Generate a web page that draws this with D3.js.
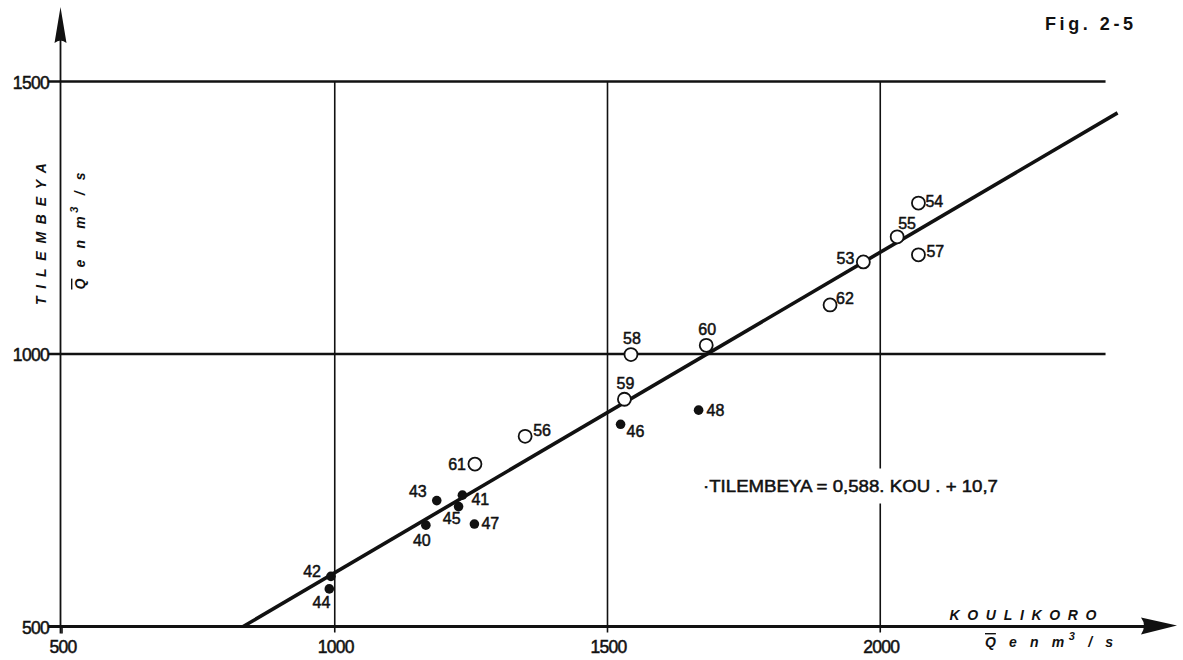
<!DOCTYPE html>
<html>
<head>
<meta charset="utf-8">
<script src="https://cdn.jsdelivr.net/npm/d3@7"></script>
<style>
  html, body { margin: 0; padding: 0; background: #fff; }
  svg { display: block; }
  text { font-family: "Liberation Sans", Arial, sans-serif; fill: #111; }
  .heavy { stroke: #111; stroke-width: 0.5px; }
</style>
</head>
<body>
<svg id="chart" width="1183" height="660"></svg>
<script>
// Mean annual discharge (m3/s): Koulikoro (x) against Tilembeya (y)
// Years 1940-1948 (filled dots)
const yearsEarly = ["40", "41", "42", "43", "44", "45", "46", "47", "48"];
const koulikoroEarly = [1167, 1234, 993, 1187, 990, 1227, 1524, 1256, 1667];
const tilembeyaEarly = [686, 741, 592, 731, 569, 720, 871, 688, 897];

// Years 1953-1962 (open circles)
const yearsLate = ["53", "54", "55", "56", "57", "58", "59", "60", "61", "62"];
const koulikoroLate = [1969, 2070, 2031, 1349, 2070, 1543, 1531, 1681, 1257, 1908];
const tilembeyaLate = [1169, 1277, 1215, 849, 1182, 999, 917, 1016, 798, 1090];

// Regression: TILEMBEYA = 0,588 . KOU + 10,7
const fitSlope = 0.588;
const fitIntercept = 10.7;
const fitEndKoulikoro = 2435;

// Axes and grid
const xTickValues = [500, 1000, 1500, 2000];
const xTickLabels = ["500", "1000", "1500", "2000"];
const yTickValues = [500, 1000, 1500];
const yTickLabels = ["500", "1000", "1500"];
const xGridValues = [1000, 1500, 2000];
const yGridValues = [1000, 1500];
const gridEndKoulikoro = 2413;

// Year label placement around each marker: [dx, dy, anchor]
const labelPlace = {
  "40": [-4, 15, "middle"], "41": [9, 4, "start"], "42": [-10, -5, "end"],
  "43": [-10, -9, "end"], "44": [1, 14, "end"], "45": [2, 12, "end"],
  "46": [6, 7, "start"], "47": [7, -1, "start"], "48": [8, 0, "start"],
  "53": [-9, -3, "end"], "54": [7, -2, "start"], "55": [1, -13, "start"],
  "56": [8, -6, "start"], "57": [8, -3, "start"], "58": [1, -16, "middle"],
  "59": [1, -16, "middle"], "60": [1, -16, "middle"], "61": [-9, 0, "end"],
  "62": [6, -6, "start"]
};

const svg = d3.select("#chart");
const ink = "#111";

const x = d3.scaleLinear().domain([500, 2500]).range([62, 1153]);
const y = d3.scaleLinear().domain([500, 1500]).range([626.5, 81.5]);

const x0 = x(500), y0 = y(500);

// Horizontal grid lines
svg.append("g").selectAll("line").data(yGridValues).join("line")
  .attr("x1", x0 - 14).attr("x2", x(gridEndKoulikoro))
  .attr("y1", d => y(d)).attr("y2", d => y(d))
  .attr("stroke", ink).attr("stroke-width", 2.5);

// Vertical grid lines
svg.append("g").selectAll("line").data(xGridValues).join("line")
  .attr("x1", d => x(d)).attr("x2", d => x(d))
  .attr("y1", y(1500)).attr("y2", y0 + 6)
  .attr("stroke", ink).attr("stroke-width", 1.6);

// Small ticks at the origin
svg.append("line").attr("x1", x0).attr("x2", x0).attr("y1", y0).attr("y2", y0 + 7)
  .attr("stroke", ink).attr("stroke-width", 1.6);
svg.append("line").attr("x1", x0 - 14).attr("x2", x0).attr("y1", y0).attr("y2", y0)
  .attr("stroke", ink).attr("stroke-width", 2);

// Y axis with arrow
svg.append("line").attr("x1", x0 - 1.5).attr("x2", x0 - 1.5).attr("y1", y0 + 7).attr("y2", 30)
  .attr("stroke", ink).attr("stroke-width", 1.8);
svg.append("path")
  .attr("d", `M${x0 - 1.5},7 L${x0 + 4.5},43 Q${x0 - 1.5},38 ${x0 - 7.5},43 Z`)
  .attr("fill", ink);

// X axis with arrow
const xAxisEnd = 1177;
svg.append("line").attr("x1", x0 - 14).attr("x2", xAxisEnd - 25).attr("y1", y0).attr("y2", y0)
  .attr("stroke", ink).attr("stroke-width", 3.2);
svg.append("path")
  .attr("d", `M${xAxisEnd},${y0 - 1} L${xAxisEnd - 36},${y0 - 9} Q${xAxisEnd - 30},${y0 - 1} ${xAxisEnd - 36},${y0 + 8} Z`)
  .attr("fill", ink);

// Tick labels
svg.append("g").selectAll("text").data(xTickValues).join("text")
  .attr("class", "heavy")
  .attr("x", d => x(d) + 1).attr("y", y0 + 20)
  .attr("text-anchor", "middle").attr("dominant-baseline", "central")
  .attr("font-size", 17.5).attr("letter-spacing", -0.7)
  .text((d, i) => xTickLabels[i]);

svg.append("g").selectAll("text").data(yTickValues).join("text")
  .attr("class", "heavy")
  .attr("x", x0 - 13).attr("y", d => y(d) + 1)
  .attr("text-anchor", "end").attr("dominant-baseline", "central")
  .attr("font-size", 17.5).attr("letter-spacing", -0.7)
  .text((d, i) => yTickLabels[i]);

// Regression line
const fitStart = (500 - fitIntercept) / fitSlope;
svg.append("line")
  .attr("x1", x(fitStart)).attr("y1", y(fitSlope * fitStart + fitIntercept))
  .attr("x2", x(fitEndKoulikoro)).attr("y2", y(fitSlope * fitEndKoulikoro + fitIntercept))
  .attr("stroke", ink).attr("stroke-width", 3.6);

// Equation; the grid line behind it is interrupted by a white backing
const eqGroup = svg.append("g");
const eq = eqGroup.append("text")
  .attr("class", "heavy")
  .attr("x", 703).attr("y", 486)
  .attr("dominant-baseline", "central")
  .attr("font-size", 17).attr("textLength", 295).attr("lengthAdjust", "spacingAndGlyphs")
  .text("·TILEMBEYA = 0,588. KOU . + 10,7");
const bb = eq.node().getBBox();
eqGroup.insert("rect", "text")
  .attr("x", bb.x - 4).attr("y", bb.y - 8).attr("width", bb.width + 8).attr("height", bb.height + 16)
  .attr("fill", "#fff");

// Markers
const early = yearsEarly.map((yr, i) => ({ yr, k: koulikoroEarly[i], t: tilembeyaEarly[i] }));
const late = yearsLate.map((yr, i) => ({ yr, k: koulikoroLate[i], t: tilembeyaLate[i] }));

svg.append("g").selectAll("circle").data(late).join("circle")
  .attr("cx", d => x(d.k)).attr("cy", d => y(d.t)).attr("r", 6.5)
  .attr("fill", "#fff").attr("stroke", ink).attr("stroke-width", 1.8);

svg.append("g").selectAll("circle").data(early).join("circle")
  .attr("cx", d => x(d.k)).attr("cy", d => y(d.t)).attr("r", 4.8)
  .attr("fill", ink);

// Year labels
svg.append("g").selectAll("text").data(early.concat(late)).join("text")
  .attr("class", "heavy")
  .attr("x", d => x(d.k) + labelPlace[d.yr][0])
  .attr("y", d => y(d.t) + labelPlace[d.yr][1])
  .attr("text-anchor", d => labelPlace[d.yr][2])
  .attr("dominant-baseline", "central")
  .attr("font-size", 16)
  .text(d => d.yr);

// Axis titles
svg.append("text")
  .attr("transform", "translate(41,234) rotate(-90)")
  .attr("text-anchor", "middle").attr("dominant-baseline", "central")
  .attr("font-size", 14).attr("font-weight", "bold").attr("font-style", "italic")
  .attr("textLength", 142).attr("lengthAdjust", "spacing")
  .text("TILEMBEYA");

function unitLabel(sel, len) {
  sel.attr("text-anchor", "middle").attr("dominant-baseline", "central")
    .attr("font-size", 14).attr("font-weight", "bold").attr("font-style", "italic");
  sel.append("tspan").style("text-decoration", "overline").text("Q");
  sel.append("tspan").text(" e n  m");
  sel.append("tspan").attr("dy", -6).attr("font-size", 11).text("3");
  sel.append("tspan").attr("dy", 6).text(" / s");
  sel.attr("textLength", len).attr("lengthAdjust", "spacing");
}
unitLabel(svg.append("text").attr("transform", "translate(80,231) rotate(-90)"), 117);

svg.append("text")
  .attr("x", 1023).attr("y", 615)
  .attr("text-anchor", "middle").attr("dominant-baseline", "central")
  .attr("font-size", 14).attr("font-weight", "bold").attr("font-style", "italic")
  .attr("textLength", 147).attr("lengthAdjust", "spacing")
  .text("KOULIKORO");
unitLabel(svg.append("text").attr("x", 1049).attr("y", 642), 128);

// Figure number
svg.append("text")
  .attr("x", 1045).attr("y", 30)
  .attr("font-family", "'Liberation Serif', 'DejaVu Serif', serif")
  .attr("font-size", 18).attr("font-weight", "bold")
  .attr("textLength", 88).attr("lengthAdjust", "spacing")
  .text("Fig. 2-5");
</script>
</body>
</html>
